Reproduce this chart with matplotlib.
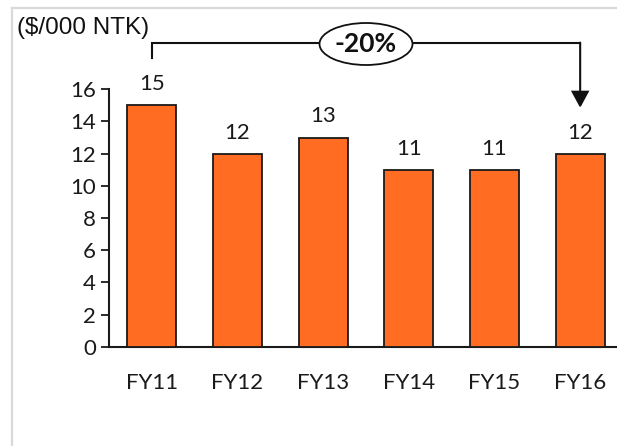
import matplotlib
matplotlib.use("Agg")
import matplotlib.pyplot as plt
from matplotlib.patches import Ellipse, FancyArrowPatch
from matplotlib.lines import Line2D

categories = ["FY11", "FY12", "FY13", "FY14", "FY15", "FY16"]
values = [15, 12, 13, 11, 11, 12]
y_ticks = [0, 2, 4, 6, 8, 10, 12, 14, 16]
unit_label = "($/000 NTK)"
change_label = "-20%"

W, H = 617, 446
fig = plt.figure(figsize=(W / 100, H / 100), dpi=100)
fig.patch.set_facecolor("white")

# axes placed in pixel terms; the right side runs past the figure edge
ax = fig.add_axes([109 / W, 99.3 / H, 514 / W, 257.4 / H])
x = list(range(len(categories)))
ax.bar(x, values, width=0.57, color="#FF6C22", edgecolor="#1a1a1a", linewidth=1.3, zorder=3)

for xi, v in zip(x, values):
    ax.annotate(f"{v:d}", (xi, v), xytext=(0, 8), textcoords="offset points",
                ha="center", va="bottom", fontsize=16, family="Lato", color="#1a1a1a")

ax.set_xlim(-0.5, len(categories) - 0.5)
ax.set_ylim(0, 16)
ax.set_yticks(y_ticks)
ax.set_xticks(x)
ax.set_xticklabels(categories, family="Lato", fontsize=16, color="#1a1a1a")
ax.set_yticklabels([str(t) for t in y_ticks], family="Lato", fontsize=16, color="#1a1a1a")
ax.tick_params(axis="y", direction="out", length=6, width=1.3, pad=3.5, color="#1a1a1a")
ax.tick_params(axis="x", length=0, pad=19)

for side in ("top", "right"):
    ax.spines[side].set_visible(False)
for side in ("left", "bottom"):
    ax.spines[side].set_linewidth(1.5)
    ax.spines[side].set_color("#1a1a1a")

# bracket from the first to the last bar
y_top = 18.9
ax.plot([0, 0, 5], [17.97, y_top, y_top], color="#111111", linewidth=1.5,
        clip_on=False, solid_joinstyle="miter", zorder=4)
arrow = FancyArrowPatch((5, y_top), (5, 14.85), arrowstyle="-|>,head_length=10,head_width=5.4",
                        mutation_scale=1, color="#111111", linewidth=1.5,
                        shrinkA=0, shrinkB=0, clip_on=False, zorder=4, joinstyle="miter")
ax.add_patch(arrow)

# ellipse with the change figure
ell = Ellipse((366 / W, 1 - 44 / H), 93 / W, 42 / H, transform=fig.transFigure,
              facecolor="white", edgecolor="#111111", linewidth=1.3, zorder=5)
fig.add_artist(ell)
fig.text(366 / W, 1 - 44 / H, change_label, ha="center", va="center", fontsize=19,
         fontweight="bold", family="Lato", color="#111111", zorder=6)

fig.text(17 / W, 1 - 28 / H, unit_label, ha="left", va="center", fontsize=17.5,
         family="Liberation Sans", color="#111111")

# light frame along the left and top edges
fig.add_artist(Line2D([12 / W, 12 / W], [0, 1 - 8 / H], transform=fig.transFigure,
                      color="#d9d9d9", linewidth=1.6))
fig.add_artist(Line2D([12 / W, 1], [1 - 8 / H, 1 - 8 / H], transform=fig.transFigure,
                      color="#d9d9d9", linewidth=1.6))

fig.savefig("out.png", dpi=100, facecolor="white")
